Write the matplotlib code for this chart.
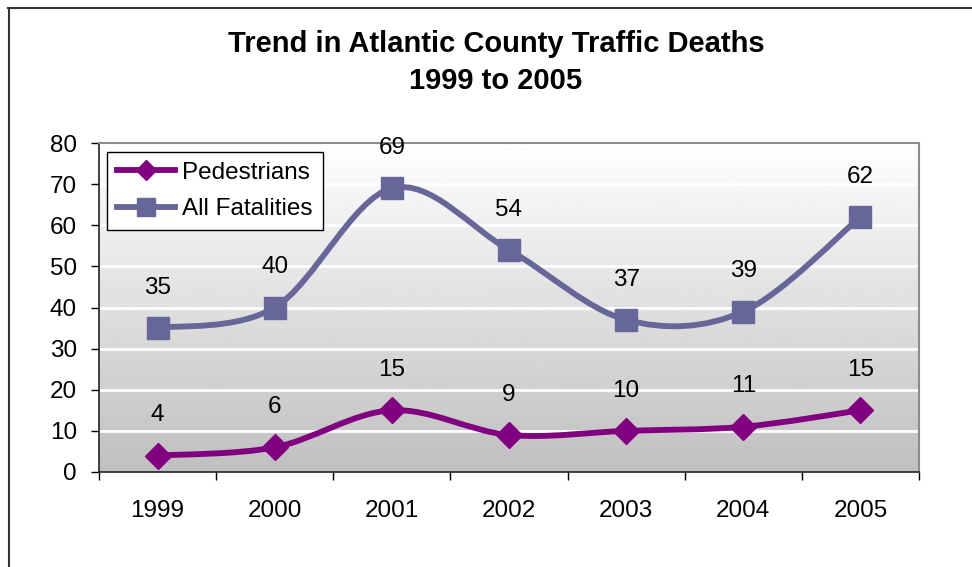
import numpy as np
import matplotlib
matplotlib.use('Agg')
import matplotlib.pyplot as plt
from matplotlib.path import Path
from matplotlib.patches import PathPatch
from matplotlib.lines import Line2D

plt.rcParams['font.family'] = ['Liberation Sans', 'DejaVu Sans']

# Data
years = ['1999', '2000', '2001', '2002', '2003', '2004', '2005']
pedestrians = [4, 6, 15, 9, 10, 11, 15]
all_fatalities = [35, 40, 69, 54, 37, 39, 62]

ped_color = '#800080'
all_color = '#666699'


def smooth_path(xs, ys):
	# Excel style smoothed line: cubic bezier segments through every point
	pts = np.column_stack([xs, ys]).astype(float)
	n = len(pts)
	verts = [pts[0]]
	codes = [Path.MOVETO]
	for i in range(n - 1):
		p0 = pts[max(i - 1, 0)]
		p1 = pts[i]
		p2 = pts[i + 1]
		p3 = pts[min(i + 2, n - 1)]
		c1 = p1 + (p2 - p0) / 6.0
		c2 = p2 - (p3 - p1) / 6.0
		verts += [c1, c2, p2]
		codes += [Path.CURVE4] * 3
	return Path(verts, codes)


fig = plt.figure(figsize=(9.72, 5.67), dpi=100)
ax = fig.add_axes([99 / 972, 95 / 567, 820 / 972, 329 / 567])

x = np.arange(len(years))
ax.set_xlim(-0.5, len(years) - 0.5)
ax.set_ylim(0, 80)

# Gradient plot area background
grad = np.linspace(0.75, 1.0, 256).reshape(-1, 1)
ax.imshow(grad, extent=[-0.5, len(years) - 0.5, 0, 80], origin='lower',
		  aspect='auto', cmap='gray', vmin=0, vmax=1, zorder=0)
for yv in range(10, 80, 10):
	ax.axhline(yv, color='white', lw=2.0, zorder=1)

# Smoothed lines
for vals, col in [(pedestrians, ped_color), (all_fatalities, all_color)]:
	patch = PathPatch(smooth_path(x, vals), facecolor='none', edgecolor=col,
					  lw=4.2, capstyle='round', joinstyle='round', zorder=2)
	ax.add_patch(patch)

ax.plot(x, pedestrians, ls='none', marker='D', ms=13, color=ped_color, zorder=3)
ax.plot(x, all_fatalities, ls='none', marker='s', ms=16.5, color=all_color, zorder=3)

# Data labels
for xi, v in zip(x, pedestrians):
	ax.annotate(str(v), (xi, v), xytext=(0, 29), textcoords='offset points',
				ha='center', va='center', fontsize=17.5)
for xi, v in zip(x, all_fatalities):
	ax.annotate(str(v), (xi, v), xytext=(0, 29), textcoords='offset points',
				ha='center', va='center', fontsize=17.5)

# Axes styling
ax.set_yticks(range(0, 81, 10))
ax.set_xticks(x)
ax.set_xticklabels(years)
ax.set_xticks(np.arange(-0.5, len(years), 1.0), minor=True)
ax.tick_params(axis='x', which='major', length=0, pad=20, labelsize=17.5)
ax.tick_params(axis='x', which='minor', length=6, width=1, direction='out')
ax.tick_params(axis='y', length=6, width=1, direction='out', pad=10, labelsize=17.5)
ax.spines['left'].set_color('#222222')
ax.spines['bottom'].set_color('#222222')
ax.spines['left'].set_linewidth(1.2)
ax.spines['bottom'].set_linewidth(1.2)
ax.spines['top'].set_color('#8c8c8c')
ax.spines['right'].set_color('#8c8c8c')
ax.spines['top'].set_linewidth(1.5)
ax.spines['right'].set_linewidth(1.5)

# Legend
handles = [
	Line2D([], [], color=ped_color, lw=4.2, marker='D', ms=10),
	Line2D([], [], color=all_color, lw=4.2, marker='s', ms=13),
]
leg = ax.legend(handles, ['Pedestrians', 'All Fatalities'], loc='upper left',
				bbox_to_anchor=(8 / 820, 1 - 9 / 329), borderaxespad=0,
				fontsize=17.5, frameon=True, fancybox=False, framealpha=1,
				edgecolor='black', handlelength=2.4, handletextpad=0.3,
				labelspacing=0.6, borderpad=0.4)
leg.get_frame().set_linewidth(1.0)

# Title
fig.text(496 / 972, 1 - 62.5 / 567, 'Trend in Atlantic County Traffic Deaths\n1999 to 2005',
		 ha='center', va='center', fontsize=21, fontweight='bold', linespacing=1.4)

# Outer chart frame (top and left edges visible)
fig.add_artist(Line2D([8 / 972, 1], [1 - 7.5 / 567, 1 - 7.5 / 567],
					  transform=fig.transFigure, color='#333333', lw=1.5))
fig.add_artist(Line2D([8.5 / 972, 8.5 / 972], [0, 1 - 7.5 / 567],
					  transform=fig.transFigure, color='#333333', lw=1.5))

plt.savefig('out.png', dpi=100)
plt.close()
